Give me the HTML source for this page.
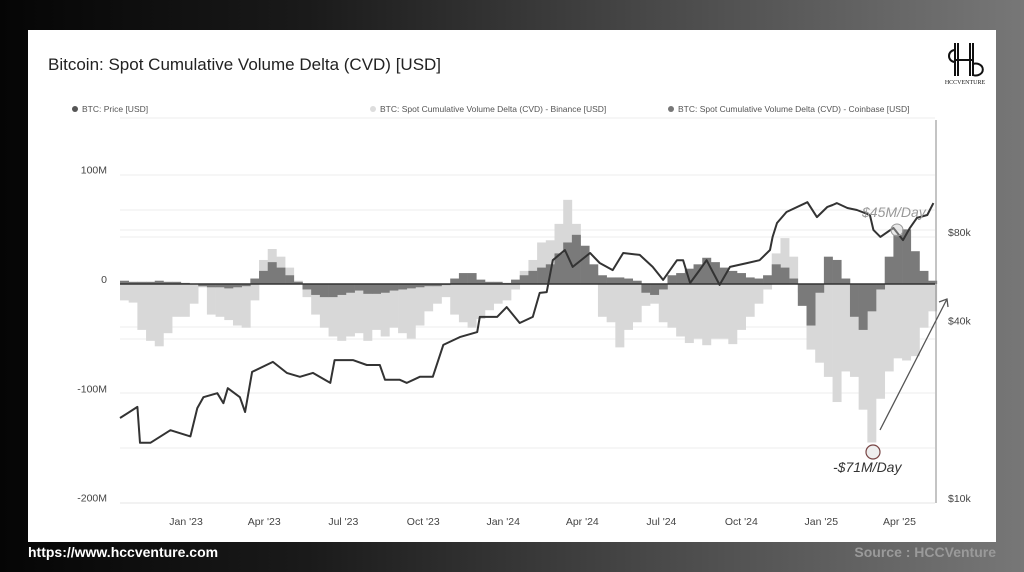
<!DOCTYPE html>
<html><head><meta charset="utf-8">
<style>
html,body{margin:0;padding:0;}
body{width:1024px;height:572px;overflow:hidden;background:linear-gradient(90deg,#050505 0%,#1a1a1a 30%,#4a4a4a 65%,#777 100%);font-family:"Liberation Sans",sans-serif;position:relative;}
#card{position:absolute;left:28px;top:30px;width:968px;height:512px;background:#fff;}
.t{position:absolute;white-space:nowrap;}
</style></head><body>
<div id="card"></div>
<div class="t" style="left:48px;top:55px;font-size:17px;color:#222;">Bitcoin: Spot Cumulative Volume Delta (CVD) [USD]</div>
<div class="t" style="left:28px;top:544px;font-size:14px;font-weight:bold;color:#fff;">https://www.hccventure.com</div>
<div class="t" style="right:28px;top:544px;font-size:14px;font-weight:bold;color:#9a9a9a;">Source : HCCVenture</div>
<svg id="chart" width="1024" height="572" style="position:absolute;left:0;top:0;" font-family="Liberation Sans, sans-serif"></svg>
<script>
const cvdStartDay = 0, cvdStepDays = 10;
const binanceValues = [-15,-17,-42,-52,-57,-45,-30,-30,-18,-3,-28,-30,-33,-38,-40,-15,22,32,25,15,3,-12,-28,-40,-48,-52,-48,-45,-52,-42,-48,-40,-45,-50,-38,-25,-18,-12,-28,-35,-40,-32,-24,-18,-15,-5,12,22,38,40,55,77,55,30,10,-30,-35,-58,-42,-35,-20,-18,-35,-40,-48,-54,-50,-56,-50,-50,-55,-42,-30,-18,-5,28,42,25,-8,-60,-72,-85,-108,-80,-85,-115,-145,-105,-80,-68,-70,-66,-40,-25];
const coinbaseValues = [3,2,2,2,3,2,2,1,0,-2,-3,-3,-4,-3,-2,5,12,20,15,8,2,-5,-10,-12,-12,-10,-8,-6,-9,-9,-8,-6,-5,-4,-3,-2,-2,-1,5,10,10,4,2,2,1,4,8,12,15,18,28,38,45,35,18,8,6,6,5,3,-8,-10,-5,8,10,14,18,24,20,15,12,10,6,5,8,18,15,5,-20,-38,-8,25,22,5,-30,-42,-25,-5,25,45,50,30,12,3];
const priceDays = [0,20,23,35,58,81,89,96,112,119,124,138,144,152,176,192,207,222,242,247,268,284,299,305,322,330,345,360,372,391,411,414,434,445,460,475,483,491,498,512,521,541,552,567,579,598,613,625,641,648,656,667,675,690,702,722,736,748,751,756,767,791,802,814,820,825,837,848,863,867,875,890,901,909,917,929,936];
const priceValues = [18.7,20.4,15.4,15.4,17.0,16.2,20.2,22.0,22.7,21.0,23.6,22.0,19.6,26.8,29.0,26.6,25.8,26.6,24.6,29.4,29.4,28.3,28.3,25.2,25.2,24.6,25.8,25.8,33.1,35.2,36.6,41.2,41.2,44.5,39.3,41.2,49.7,50,64.2,69.5,60.9,67.9,62.8,59.4,67.9,66.9,60.9,55.0,64.2,64.2,53.7,59.4,64.2,52.9,60.9,62.8,64.2,69.5,77,85.8,93.5,101,89.9,97.3,98.8,100.3,96.5,95,91.4,81.3,77,82.6,75.1,82.6,89.3,91.4,100.3];
const leftTicks = [100,0,-100,-200];
const leftTickLabels = ["100M","0","-100M","-200M"];
const rightTicks = [80,40,10];
const rightTickLabels = ["$80k","$40k","$10k"];
const xTickDays = [76,166,257,349,441,532,623,715,807,897];
const xTickLabels = ["Jan '23","Apr '23","Jul '23","Oct '23","Jan '24","Apr '24","Jul '24","Oct '24","Jan '25","Apr '25"];

const X0 = 120, PXD = 0.869, Y0 = 284, PXM = 1.093;
const xs = d => X0 + d * PXD;
const yL = v => Y0 - v * PXM;
const yR = p => 232 - 88.7 * Math.log2(p / 80);
const svg = document.getElementById('chart');
const NS = 'http://www.w3.org/2000/svg';
function mk(tag, attrs, parent){const e=document.createElementNS(NS,tag);for(const k in attrs)e.setAttribute(k,attrs[k]);(parent||svg).appendChild(e);return e;}

const gl=[175,210,230,237,327,339,393,448];
for(const gy of gl){const l=mk('line',{x1:120,x2:935,y1:gy,y2:gy,stroke:'#eeeeee','stroke-width':1});

}
const topl=mk('line',{x1:120,x2:935,y1:118,y2:118,stroke:'#eeeeee','stroke-width':1});


const bl=mk('line',{x1:120,x2:935,y1:503,y2:503,stroke:'#e4e4e4','stroke-width':1});



const bw = cvdStepDays * PXD;
function drawBars(vals, color, name){
  const g=mk('g',{});
  
  
  vals.forEach((v,i)=>{
    const x=xs(cvdStartDay+i*cvdStepDays);
    const y=yL(v);
    const r=mk('rect',{x:x,y:Math.min(y,Y0),width:bw+0.3,height:Math.abs(Y0-y),fill:color},g);
    
    
  });
}
drawBars(binanceValues,'#d8d8d8','binance-cvd-series');
drawBars(coinbaseValues,'#7a7a7a','coinbase-cvd-series');

const zl=mk('line',{x1:120,x2:935,y1:Y0,y2:Y0,stroke:'#333','stroke-width':1.5});



let dstr='';
priceDays.forEach((d,i)=>{dstr+=(i?'L':'M')+xs(d).toFixed(1)+','+yR(priceValues[i]).toFixed(1);});
const pl=mk('path',{d:dstr,fill:'none',stroke:'#333','stroke-width':2,'stroke-linejoin':'round'});



const ra=mk('line',{x1:936,x2:936,y1:120,y2:503,stroke:'#888','stroke-width':1});



leftTicks.forEach((v,i)=>{const t=mk('text',{x:107,y:yL(v)-1,'text-anchor':'end','font-size':10.5,fill:'#444'});t.textContent=leftTickLabels[i];

});
rightTicks.forEach((v,i)=>{const t=mk('text',{x:948,y:yR(v)+4,'font-size':10.5,fill:'#444'});t.textContent=rightTickLabels[i];

});
xTickDays.forEach((d,i)=>{const t=mk('text',{x:xs(d),y:525,'text-anchor':'middle','font-size':10.5,fill:'#444'});t.textContent=xTickLabels[i];

});

const leg=[[72,'#555','BTC: Price [USD]'],[370,'#ddd','BTC: Spot Cumulative Volume Delta (CVD) - Binance [USD]'],[668,'#777','BTC: Spot Cumulative Volume Delta (CVD) - Coinbase [USD]']];
leg.forEach(l=>{const c=mk('circle',{cx:l[0]+3,cy:109,r:3,fill:l[1]});


const t=mk('text',{x:l[0]+10,y:112,'font-size':8.5,fill:'#555'});t.textContent=l[2];

});

const a1=mk('text',{x:862,y:217,'font-size':14,'font-style':'italic',fill:'#999'});a1.textContent='$45M/Day';


const c1=mk('circle',{cx:897,cy:230,r:6,fill:'rgba(200,200,200,0.4)',stroke:'#999','stroke-width':1});


const c2=mk('circle',{cx:873,cy:452,r:7,fill:'#eee',stroke:'#744','stroke-width':1.2});


const a2=mk('text',{x:833,y:472,'font-size':14,'font-style':'italic',fill:'#333'});a2.textContent='-$71M/Day';


const ar=mk('path',{d:'M880,430 L947,299 M939,302 L947,299 L948,307',fill:'none',stroke:'#555','stroke-width':1.3});



const lg=mk('g',{});


mk('path',{d:'M955,43 V76 M958,43 V76 M970,43 V76 M973,43 V76 M955,60 H973 M955,50 A6,6 0 1 0 955,62 M973,64 A7,6 0 1 1 973,75',fill:'none',stroke:'#111','stroke-width':2},lg);
const lt=mk('text',{x:965,y:84,'text-anchor':'middle','font-size':6,'font-family':'Liberation Serif, serif',fill:'#111'},lg);lt.textContent='HCCVENTURE';
</script>
</body></html>
